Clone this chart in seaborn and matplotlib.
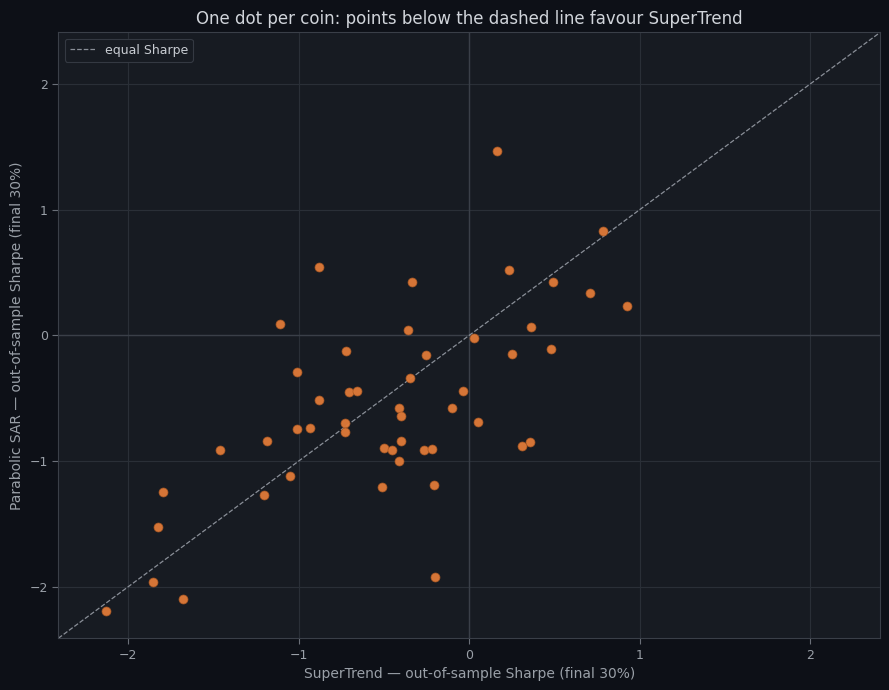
import matplotlib

matplotlib.use("Agg")
import matplotlib.pyplot as plt
import pandas as pd
import seaborn as sns

# out-of-sample Sharpe per coin
SUPERTREND_SHARPE = [
    0.164, 0.785, -0.879, -0.334, 0.234, 0.492, 0.709, 0.926, -1.107, -0.357,
    0.363, 0.029, -0.721, -0.252, 0.252, 0.480, -1.008, -0.346, -0.703, -0.656,
    -0.035, -0.879, -0.410, -0.100, -0.402, 0.053, -0.726, -1.013, -0.931, -0.730,
    -1.189, -0.402, 0.357, -1.459, -0.498, -0.455, -0.266, -0.217, 0.310, -0.410,
    -1.054, -0.509, -0.207, -1.798, -1.201, -1.828, -1.857, -1.681, -2.132, -0.199,
]
PSAR_SHARPE = [
    1.466, 0.829, 0.542, 0.422, 0.518, 0.422, 0.335, 0.231, 0.088, 0.040,
    0.064, -0.024, -0.127, -0.159, -0.151, -0.112, -0.289, -0.343, -0.454, -0.446,
    -0.446, -0.518, -0.582, -0.582, -0.638, -0.693, -0.701, -0.749, -0.741, -0.773,
    -0.837, -0.837, -0.845, -0.916, -0.900, -0.916, -0.916, -0.908, -0.884, -0.996,
    -1.116, -1.203, -1.187, -1.243, -1.267, -1.522, -1.960, -2.096, -2.191, -1.920,
]

FIG_BG = "#0d1017"
AX_BG = "#171b22"
GRID = "#2a2f37"
TEXT = "#9aa0a8"
DOT = "#e07b39"


def main() -> None:
    df = pd.DataFrame({"supertrend": SUPERTREND_SHARPE, "psar": PSAR_SHARPE})
    lim = max(df.abs().max()) * 1.1

    sns.set_theme(style="dark")
    plt.rcParams["font.family"] = ["DejaVu Sans"]

    fig, ax = plt.subplots(figsize=(8.89, 6.9), dpi=100)
    fig.patch.set_facecolor(FIG_BG)
    ax.set_facecolor(AX_BG)
    fig.subplots_adjust(left=0.0656, right=0.990, top=0.953, bottom=0.075)

    ax.grid(True, color=GRID, linewidth=0.8)
    ax.axhline(0, color="#3a3f48", linewidth=1.0, zorder=1)
    ax.axvline(0, color="#3a3f48", linewidth=1.0, zorder=1)

    ax.plot([-lim, lim], [-lim, lim], linestyle="--", color="#8a8f98",
            linewidth=0.9, label="equal Sharpe", zorder=2)
    sns.scatterplot(data=df, x="supertrend", y="psar", ax=ax, color=DOT,
                    s=42, edgecolor="#a65623", linewidth=0.5, alpha=0.95, zorder=3)

    ax.set_xlim(-lim, lim)
    ax.set_ylim(-lim, lim)
    ax.set_xticks([-2, -1, 0, 1, 2])
    ax.set_yticks([-2, -1, 0, 1, 2])

    for spine in ax.spines.values():
        spine.set_visible(True)
        spine.set_color("#3a3f48")
        spine.set_linewidth(0.8)
    ax.tick_params(colors=TEXT, labelsize=9, length=4, width=0.8, color="#6a6f78",
                   left=True, bottom=True)

    ax.set_title("One dot per coin: points below the dashed line favour SuperTrend",
                 color="#d0d4da", fontsize=12)
    ax.set_xlabel("SuperTrend — out-of-sample Sharpe (final 30%)", color=TEXT, fontsize=10)
    ax.set_ylabel("Parabolic SAR — out-of-sample Sharpe (final 30%)", color=TEXT, fontsize=10)

    leg = ax.legend(loc="upper left", fontsize=9, facecolor=AX_BG, edgecolor="#343942",
                    labelcolor="#c8ccd2", framealpha=1.0)
    leg.get_frame().set_linewidth(0.8)

    fig.savefig("out.png", dpi=100, facecolor=FIG_BG)


if __name__ == "__main__":
    main()
